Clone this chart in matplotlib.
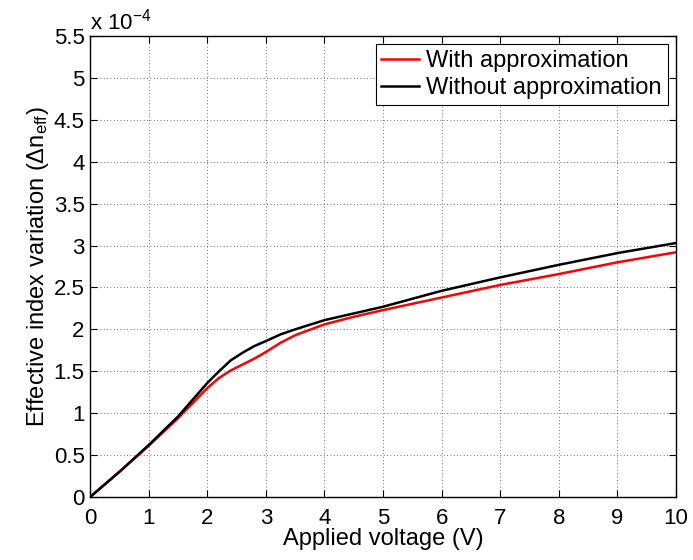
import matplotlib.pyplot as plt

# --- Данные (в единицах 1e-4) ---
voltage = [0, 0.5, 1, 1.5, 2, 2.2, 2.4, 2.6, 2.8, 3, 3.25, 3.5, 4, 4.5, 5, 6, 7, 8, 9, 10]
with_approx = [0, 0.30, 0.61, 0.94, 1.30, 1.42, 1.51, 1.58, 1.65, 1.73, 1.84, 1.93, 2.06, 2.15, 2.23, 2.38, 2.53, 2.66, 2.80, 2.92]
without_approx = [0, 0.30, 0.62, 0.96, 1.36, 1.50, 1.63, 1.72, 1.80, 1.86, 1.94, 2.00, 2.11, 2.19, 2.27, 2.46, 2.62, 2.77, 2.91, 3.03]

x_ticks = list(range(0, 11))
y_ticks = [i * 0.5 for i in range(12)]
y_tick_labels = ['0', '0.5', '1', '1.5', '2', '2.5', '3', '3.5', '4', '4.5', '5', '5.5']

plt.rcParams['font.family'] = ['Liberation Sans', 'DejaVu Sans']
plt.rcParams['mathtext.fontset'] = 'custom'
plt.rcParams['mathtext.rm'] = 'Liberation Sans'
plt.rcParams['mathtext.it'] = 'Liberation Sans'

fig = plt.figure(figsize=(6.93, 5.6), dpi=100)
ax = fig.add_axes([0.13, 0.1125, 0.8455, 0.8232])

ax.plot(voltage, with_approx, color='red', lw=1.8, label='With approximation')
ax.plot(voltage, without_approx, color='black', lw=1.8, label='Without approximation')

ax.set_xlim(0, 10)
ax.set_ylim(0, 5.5)
ax.set_xticks(x_ticks)
ax.set_yticks(y_ticks)
ax.set_yticklabels(y_tick_labels)
ax.tick_params(direction='in', top=True, right=True, labelsize=16, length=5, width=0.8)
ax.tick_params(axis='x', pad=8)
ax.tick_params(axis='y', pad=4)
ax.grid(True, linestyle=(0, (1, 3)), color='#444444', lw=0.6)
for s in ax.spines.values():
    s.set_linewidth(1.0)

ax.set_xlabel('Applied voltage (V)', fontsize=17, labelpad=-1)
ax.set_ylabel('Effective index variation ($\\Delta$n$_{\\mathrm{eff}}$)', fontsize=17, labelpad=2)
ax.text(0.0, 1.003, 'x 10$^{-4}$', transform=ax.transAxes, fontsize=16, va='bottom', ha='left')

leg = ax.legend(loc='upper right', fontsize=17, fancybox=False, framealpha=1,
                edgecolor='black', handlelength=1.6, handletextpad=0.3,
                borderpad=0.25, labelspacing=0.2, borderaxespad=0.35)
leg.get_frame().set_linewidth(0.8)

fig.savefig('out.png', dpi=100)
